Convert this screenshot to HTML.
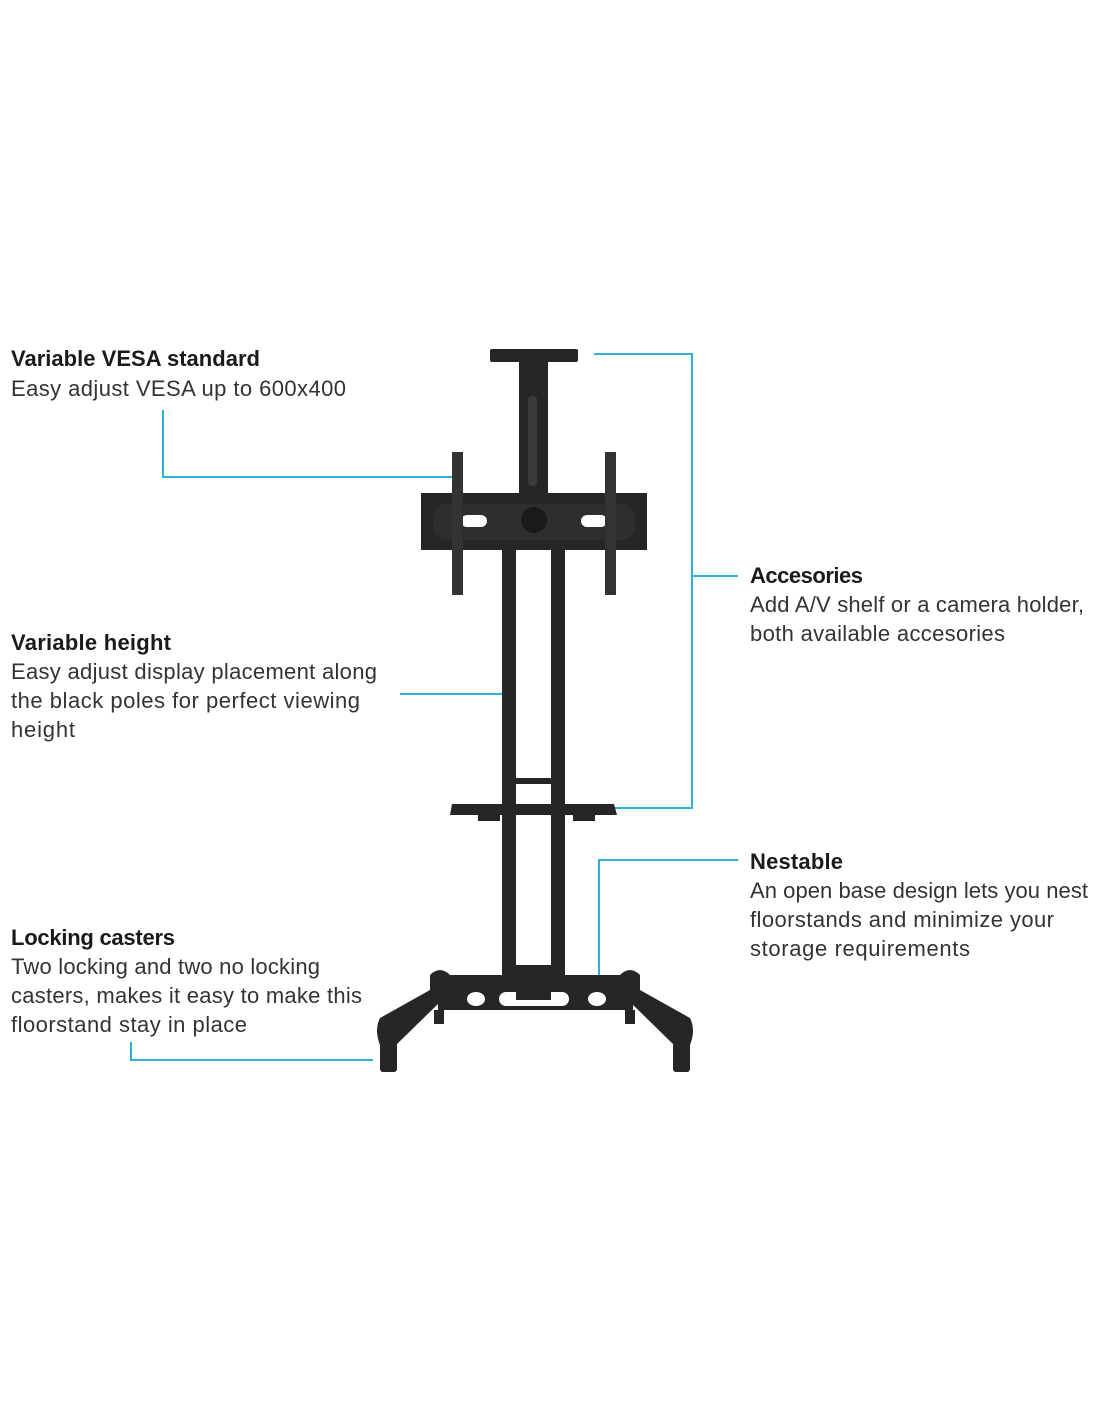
<!DOCTYPE html>
<html><head><meta charset="utf-8"><style>
html,body{margin:0;padding:0;background:#fff;}
svg{display:block;}
text{font-family:"Liberation Sans",sans-serif;fill:#1a1a1a;}
.h{font-weight:bold;font-size:22px;}
.b{font-size:22px;fill:#333;}
</style></head><body>
<svg width="1100" height="1422" viewBox="0 0 1100 1422">
<!-- blue connectors -->
<g stroke="#2bb3d4" stroke-width="2" fill="none">
<polyline points="163,410 163,477 457,477"/>
<polyline points="594,354 692,354 692,808 600,808"/>
<line x1="692" y1="576" x2="738" y2="576"/>
<line x1="400" y1="694" x2="510" y2="694"/>
<polyline points="738,860 599,860 599,978"/>
<polyline points="131,1042 131,1060 373,1060"/>
</g>
<!-- stand -->
<g fill="#262626">
<rect x="490" y="349" width="88" height="13" rx="2"/>
<rect x="519" y="360" width="29" height="136"/>
<rect x="528" y="396" width="9" height="90" rx="4" fill="#3a3a3a"/>
<rect x="421" y="493" width="226" height="57"/>
<rect x="433" y="504" width="202" height="36" rx="14" fill="#2e2e2e"/>
<rect x="461" y="515" width="26" height="12" rx="6" fill="#fff"/>
<rect x="581" y="515" width="26" height="12" rx="6" fill="#fff"/>
<circle cx="534" cy="520" r="13" fill="#1a1a1a"/>
<rect x="452" y="452" width="11" height="143" fill="#333"/>
<rect x="605" y="452" width="11" height="143" fill="#333"/>
<rect x="502" y="550" width="14" height="440"/>
<rect x="551" y="550" width="14" height="440"/>
<rect x="516" y="778" width="35" height="6"/>
<path d="M452 804 L614 804 L617 815 L450 815 Z"/>
<rect x="478" y="815" width="22" height="6"/>
<rect x="573" y="815" width="22" height="6"/>
<rect x="516" y="965" width="35" height="20"/>
<path d="M430 975 Q440 965 450 975 L620 975 Q630 965 640 975 L640 995 L632 1000 L438 1000 L430 995 Z"/>
<path d="M430 990 L440 1002 L396 1045 L380 1045 Q374 1030 380 1018 Z"/>
<path d="M640 990 L630 1002 L674 1045 L690 1045 Q696 1030 690 1018 Z"/>
<rect x="438" y="995" width="195" height="15"/>
<rect x="380" y="1040" width="17" height="32" rx="3"/>
<rect x="673" y="1040" width="17" height="32" rx="3"/>
<rect x="434" y="1010" width="10" height="14"/>
<rect x="625" y="1010" width="10" height="14"/>
<ellipse cx="476" cy="999" rx="9" ry="7" fill="#fff"/>
<ellipse cx="597" cy="999" rx="9" ry="7" fill="#fff"/>
<rect x="499" y="992" width="70" height="14" rx="7" fill="#fff"/>
<rect x="516" y="992" width="35" height="8" fill="#262626"/>
</g>
<!-- text -->
<text class="h" x="11" y="366" textLength="249">Variable VESA standard</text>
<text class="b" x="11" y="396" textLength="335">Easy adjust VESA up to 600x400</text>

<text class="h" x="11" y="650" textLength="160">Variable height</text>
<text class="b" x="11" y="679" textLength="366">Easy adjust display placement along</text>
<text class="b" x="11" y="708" textLength="349">the black poles for perfect viewing</text>
<text class="b" x="11" y="737" textLength="64">height</text>

<text class="h" x="11" y="945" textLength="164">Locking casters</text>
<text class="b" x="11" y="974" textLength="309">Two locking and two no locking</text>
<text class="b" x="11" y="1003" textLength="351">casters, makes it easy to make this</text>
<text class="b" x="11" y="1032" textLength="236">floorstand stay in place</text>

<text class="h" x="750" y="583" textLength="113">Accesories</text>
<text class="b" x="750" y="612" textLength="334">Add A/V shelf or a camera holder,</text>
<text class="b" x="750" y="641" textLength="255">both available accesories</text>

<text class="h" x="750" y="869" textLength="93">Nestable</text>
<text class="b" x="750" y="898" textLength="338">An open base design lets you nest</text>
<text class="b" x="750" y="927" textLength="304">floorstands and minimize your</text>
<text class="b" x="750" y="956" textLength="220">storage requirements</text>
</svg>
</body></html>
